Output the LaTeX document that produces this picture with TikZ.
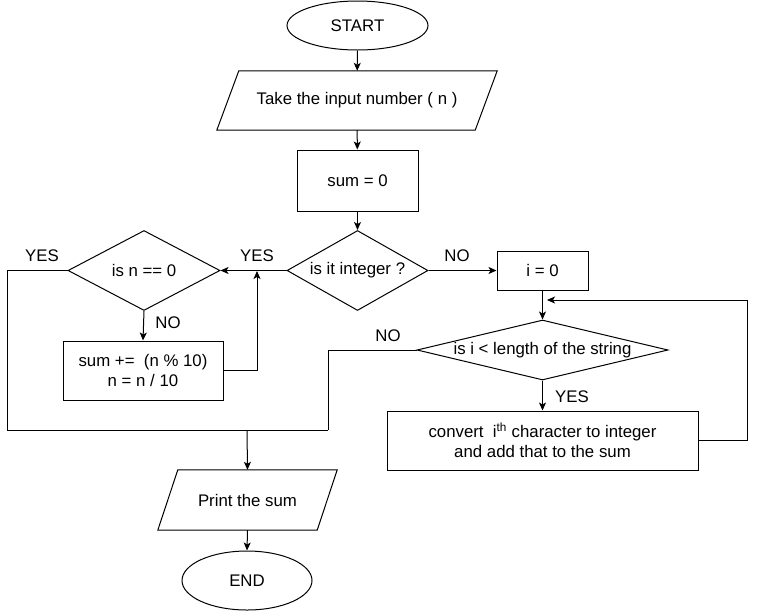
\documentclass[tikz,border=0pt]{standalone}
\usepackage{fontspec}
\setmainfont{Liberation Sans}
\usetikzlibrary{shapes.geometric,arrows.meta}
\begin{document}
\begin{tikzpicture}[x=1pt,y=-1pt,
  every node/.style={font=\fontsize{16.8}{20}\selectfont, inner sep=0pt},
  line/.style={line width=1pt, line join=miter},
  arr/.style={line, -{Stealth[length=8pt,width=7pt,inset=2pt]}},
  terminal/.style={ellipse, draw, line width=1pt, minimum width=#1, minimum height=49pt},
  proc/.style={rectangle, draw, line width=1pt, align=center},
  dec/.style={diamond, draw, line width=1pt},
  io/.style={rectangle, align=center},
  lbl/.style={font=\fontsize{16.8}{20}\selectfont}
]
% canvas
\fill[white] (0,0) rectangle (757,611);
\useasboundingbox (0,0) rectangle (757,611);

% main column
\node[terminal=141pt] (start) at (357.5,25.5) {START};
\node[io, minimum width=280pt, minimum height=59pt] (in) at (357,100.5) {Take the input number ( n )};
\draw[line] ([xshift=22pt]in.north west) -- (in.north east) -- ([xshift=-22pt]in.south east) -- (in.south west) -- cycle;
\node[proc, minimum width=121pt, minimum height=61pt] (sum) at (357.5,180.5) {sum = 0};
\node[dec, minimum width=141pt, minimum height=80pt] (d1) at (357.5,270.5) {\makebox[0pt]{is it integer ?}};

% integer branch
\node[dec, minimum width=152pt, minimum height=80pt] (d0) at (144,270.5) {\makebox[0pt]{is n == 0}};
\node[proc, minimum width=160pt, minimum height=59pt] (b0) at (143,370.5) {sum +=\ \ (n \% 10)\\n = n / 10};

% string branch
\node[proc, minimum width=91pt, minimum height=39pt] (i0) at (542.5,270.5) {i = 0};
\node[dec, minimum width=251pt, minimum height=60pt] (d2) at (542.5,350) {\makebox[0pt]{\raisebox{-2pt}{is i < length of the string}}};
\node[proc, minimum width=311pt, minimum height=59pt] (conv) at (542.5,440.5) {convert\ \ i\textsuperscript{th}\ character to integer\\and add that to the sum};

% output and end
\node[io, minimum width=179pt, minimum height=60pt] (pr) at (247.5,500) {Print the sum};
\draw[line] ([xshift=20pt]pr.north west) -- (pr.north east) -- ([xshift=-20pt]pr.south east) -- (pr.south west) -- cycle;
\node[terminal=130pt, minimum height=59pt] (end) at (247,580.5) {END};

% junction points
\coordinate (j1) at (257,271);
\coordinate (lb) at (7,430);
\coordinate (rb) at (328,430);
\coordinate (m) at (247,430);
\coordinate (lr) at (747,300);
\coordinate (lp) at (547,300);

% connectors
\draw[arr] (start) -- (in);
\draw[arr] (in) -- (sum);
\draw[arr] (sum) -- (d1);
\draw[arr] (d1.east) -- (i0.west);
\draw[arr] (d1.west) -- (d0.east);
\draw[arr] (d0.south) -- (b0.north);
\draw[arr] (b0.east) -| (j1);
\draw[line] (d0.west) -| (lb) -- (rb);
\draw[line] (d2.west) -| (rb);
\draw[arr] (m) -- (pr.north);
\draw[arr] (pr.south) -- (end.north);
\draw[arr] (i0.south) -- (d2.north);
\draw[arr] (d2.south) -- (conv.north);
\draw[arr] (conv.east) -| (lr) -- (lp);

% branch labels
\node[lbl] (yl) at (42,256) {YES};
\node[lbl] (ym) at (257,256) {YES};
\node[lbl] (nr) at (457,256) {NO};
\node[lbl] (n0) at (168,323) {NO};
\node[lbl] (n2) at (388,336) {NO};
\node[lbl] (y2) at (572,397) {YES};
\end{tikzpicture}
\end{document}
